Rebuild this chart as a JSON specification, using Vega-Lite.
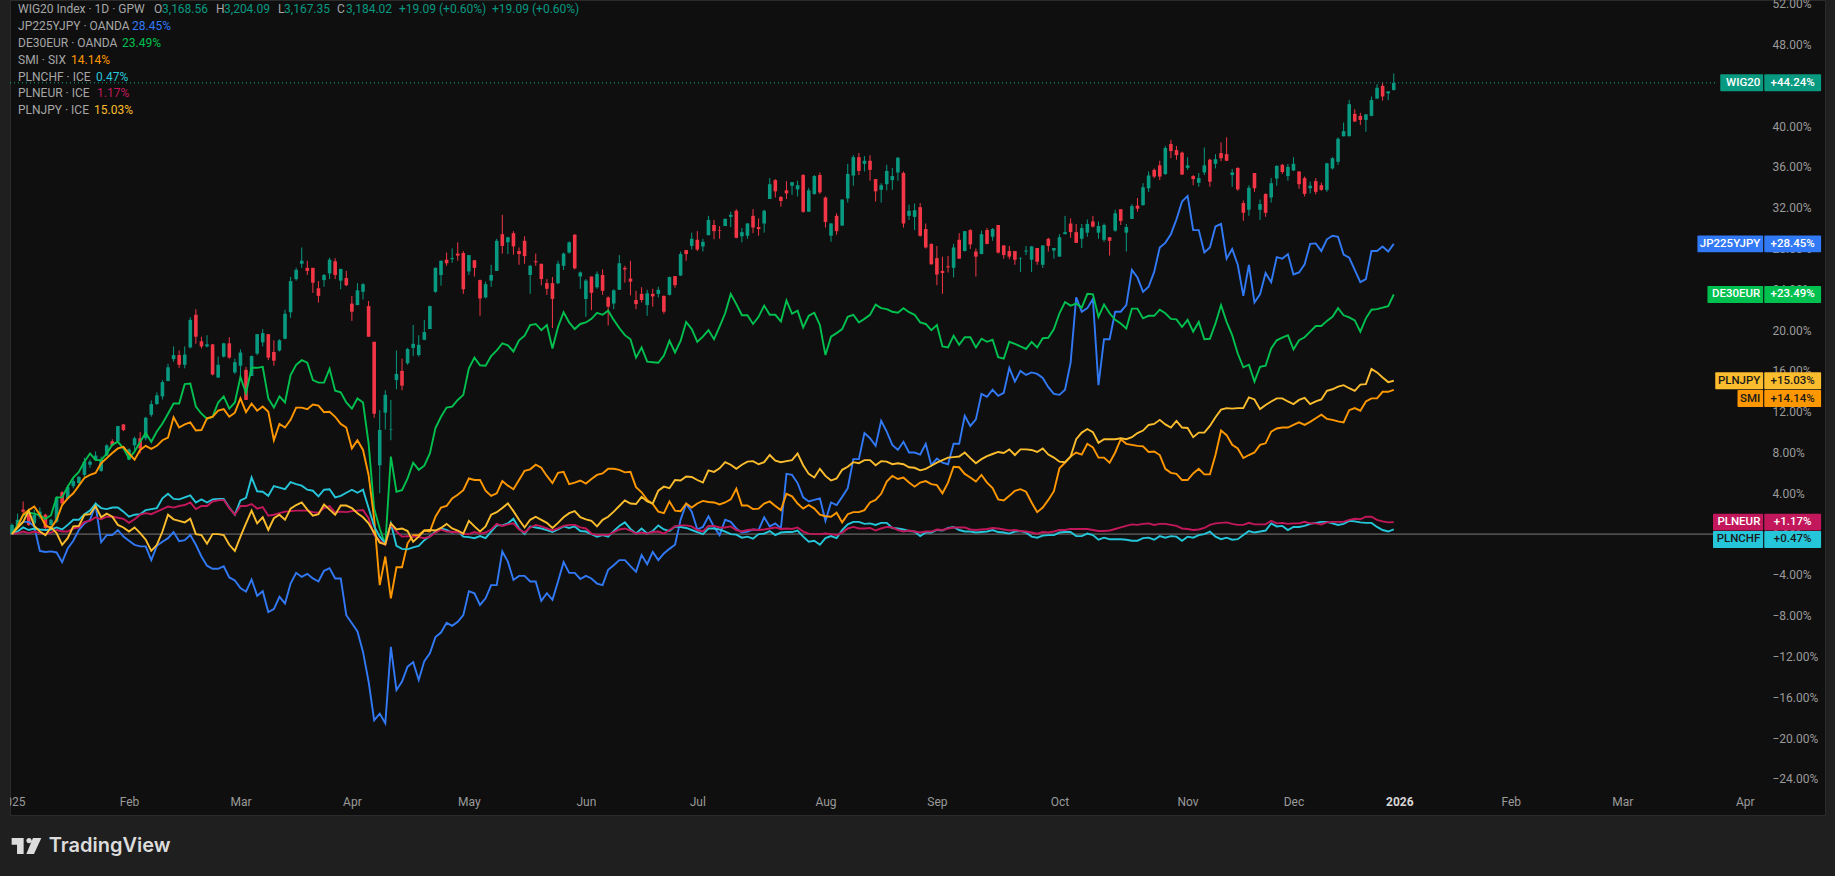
{
"$schema":"https://vega.github.io/schema/vega-lite/v6.json",
"width":1815,"height":815,
"autosize":{"type":"none"},
"padding":{"left":10,"top":0,"right":10,"bottom":61},
"background":"#1f1f1f",
"view":{"fill":"#0f0f0f","stroke":"#2b2b2b"},
"datasets":{
"bars":[
{"i":0,"o":0,"h":1.05,"l":-0.1,"c":0.9,"jp":0,"de":0,"smi":0,"chf":0,"eur":0,"jpy":0},
{"i":1,"o":0.8,"h":2,"l":0.6,"c":1.4,"jp":0.75,"de":0.9,"smi":0.75,"chf":0.25,"eur":0.1,"jpy":0.6},
{"i":2,"o":2.4,"h":3.2,"l":2,"c":2.2,"jp":1.2,"de":1.85,"smi":1.9,"chf":0.65,"eur":0.25,"jpy":1.2},
{"i":3,"o":2,"h":2.2,"l":0.8,"c":0.9,"jp":1.2,"de":2.1,"smi":2.35,"chf":0.4,"eur":0.1,"jpy":2.3},
{"i":4,"o":1.05,"h":2.4,"l":0.2,"c":1.9,"jp":0.75,"de":2,"smi":2.7,"chf":0.55,"eur":0.25,"jpy":0.8},
{"i":5,"o":1.7,"h":2.6,"l":1.5,"c":2.2,"jp":-1.65,"de":1.85,"smi":1.9,"chf":0.45,"eur":0.1,"jpy":0.25},
{"i":6,"o":1.9,"h":2,"l":0.5,"c":0.6,"jp":-1.75,"de":1.5,"smi":0.85,"chf":0.4,"eur":0,"jpy":-0.1},
{"i":7,"o":0.9,"h":1.5,"l":0.7,"c":1.4,"jp":-1.7,"de":1.85,"smi":0.6,"chf":0.45,"eur":0.15,"jpy":0.65},
{"i":8,"o":1.2,"h":3.7,"l":1.1,"c":3.6,"jp":-1.8,"de":3.6,"smi":1.4,"chf":0.65,"eur":0.4,"jpy":0.1},
{"i":9,"o":4.1,"h":4.2,"l":2.95,"c":3,"jp":-2.75,"de":3.6,"smi":2.85,"chf":0.45,"eur":0.25,"jpy":-1.05},
{"i":10,"o":3.5,"h":4.8,"l":3.4,"c":4.6,"jp":-1.4,"de":4.65,"smi":3.5,"chf":0.9,"eur":0.25,"jpy":-0.4},
{"i":11,"o":4.7,"h":5.5,"l":4.5,"c":5.2,"jp":-0.65,"de":5.55,"smi":4,"chf":1.4,"eur":0.55,"jpy":0.75},
{"i":12,"o":5,"h":5.7,"l":4.8,"c":5.6,"jp":0.4,"de":6.1,"smi":4.75,"chf":1.4,"eur":0.65,"jpy":0.8},
{"i":13,"o":5.8,"h":7.5,"l":5.6,"c":7.1,"jp":1.05,"de":7.1,"smi":5.5,"chf":1.95,"eur":1.2,"jpy":1.9},
{"i":14,"o":6.8,"h":7.3,"l":6.5,"c":7.1,"jp":1.4,"de":7.9,"smi":5.8,"chf":2.3,"eur":1.3,"jpy":1.95},
{"i":15,"o":7.3,"h":8.1,"l":7.2,"c":7.7,"jp":2.85,"de":7.25,"smi":6,"chf":3,"eur":1.65,"jpy":2.75},
{"i":16,"o":6.2,"h":7.6,"l":6.1,"c":7.3,"jp":-0.8,"de":7.25,"smi":6.95,"chf":2.55,"eur":1.45,"jpy":1.65},
{"i":17,"o":7.7,"h":8.8,"l":7.65,"c":8.7,"jp":-0.1,"de":7.9,"smi":7.45,"chf":2.45,"eur":1.7,"jpy":2},
{"i":18,"o":9.1,"h":9.3,"l":8.6,"c":8.7,"jp":-0.1,"de":8.75,"smi":7.95,"chf":2.6,"eur":1.7,"jpy":1.7},
{"i":19,"o":9.1,"h":10.6,"l":9.05,"c":10.6,"jp":0.4,"de":9.05,"smi":8.4,"chf":2.6,"eur":1.6,"jpy":0.9},
{"i":20,"o":10.75,"h":10.8,"l":10.1,"c":10.2,"jp":-0.25,"de":8.4,"smi":8.55,"chf":2.2,"eur":1.5,"jpy":0.65},
{"i":21,"o":7.3,"h":8.4,"l":7.25,"c":8.3,"jp":-0.65,"de":7.4,"smi":7.9,"chf":1.7,"eur":1.1,"jpy":0.25},
{"i":22,"o":8.7,"h":9.55,"l":8.25,"c":9.4,"jp":-1.05,"de":8.1,"smi":7.3,"chf":1.9,"eur":1.45,"jpy":0.65},
{"i":23,"o":9.4,"h":10,"l":7.9,"c":8.4,"jp":-1.2,"de":9.05,"smi":8.25,"chf":1.95,"eur":1.9,"jpy":0.1},
{"i":24,"o":9.4,"h":11.5,"l":9.2,"c":11.4,"jp":-1.2,"de":9.9,"smi":8.65,"chf":2.35,"eur":2.05,"jpy":-0.55},
{"i":25,"o":11.7,"h":13.1,"l":11.5,"c":12.75,"jp":-2.55,"de":9.05,"smi":8.35,"chf":2.45,"eur":1.95,"jpy":-1.65},
{"i":26,"o":12.75,"h":13.9,"l":12.65,"c":13.6,"jp":-1.15,"de":10.05,"smi":8.65,"chf":2.55,"eur":2.2,"jpy":-1.05},
{"i":27,"o":13.5,"h":15.1,"l":13.2,"c":14.9,"jp":-0.75,"de":10.85,"smi":9.2,"chf":3.5,"eur":2.45,"jpy":0.25},
{"i":28,"o":15,"h":16.7,"l":15,"c":16.35,"jp":-0.4,"de":11.8,"smi":9.45,"chf":3.95,"eur":2.7,"jpy":1.9},
{"i":29,"o":17.15,"h":18.4,"l":16.9,"c":17.55,"jp":0.2,"de":12.8,"smi":11.45,"chf":3.45,"eur":2.6,"jpy":1.45},
{"i":30,"o":17.55,"h":18,"l":16.3,"c":16.6,"jp":-0.7,"de":12.8,"smi":10.45,"chf":3.4,"eur":2.75,"jpy":1.3},
{"i":31,"o":16.6,"h":18.4,"l":16.25,"c":17.6,"jp":-0.6,"de":14.7,"smi":10.75,"chf":3.6,"eur":2.85,"jpy":1.15},
{"i":32,"o":18.3,"h":21.25,"l":18.2,"c":21,"jp":-0.1,"de":14.75,"smi":10.95,"chf":3.8,"eur":3.1,"jpy":1.5},
{"i":33,"o":21.5,"h":22.05,"l":18.65,"c":19.35,"jp":-1.05,"de":12.5,"smi":10.15,"chf":3.1,"eur":2.45,"jpy":0},
{"i":34,"o":18.9,"h":19.35,"l":18.2,"c":18.4,"jp":-2.2,"de":11.8,"smi":10.2,"chf":3.4,"eur":2.75,"jpy":-0.1},
{"i":35,"o":18.4,"h":19.5,"l":18.3,"c":18.6,"jp":-3.1,"de":11.3,"smi":11.35,"chf":3.1,"eur":2.75,"jpy":-0.95},
{"i":36,"o":18.6,"h":18.65,"l":15.55,"c":15.65,"jp":-3.4,"de":11.5,"smi":11.5,"chf":3.4,"eur":3.2,"jpy":0},
{"i":37,"o":15.35,"h":17.4,"l":15.3,"c":16.6,"jp":-3.4,"de":12.9,"smi":12.1,"chf":3.45,"eur":3.3,"jpy":0},
{"i":38,"o":17.4,"h":18.75,"l":17.3,"c":18.7,"jp":-3.15,"de":13.5,"smi":12.25,"chf":3.45,"eur":3.35,"jpy":-0.1},
{"i":39,"o":18.7,"h":19.3,"l":17.2,"c":17.3,"jp":-4.25,"de":12.3,"smi":11.5,"chf":2.6,"eur":2.55,"jpy":-1.05},
{"i":40,"o":15.85,"h":17.2,"l":15.7,"c":16.85,"jp":-4.55,"de":12.9,"smi":11.9,"chf":1.9,"eur":1.9,"jpy":-1.65},
{"i":41,"o":16.5,"h":18.1,"l":15.4,"c":17.8,"jp":-5.3,"de":15.4,"smi":13.3,"chf":3.3,"eur":2.75,"jpy":-0.25},
{"i":42,"o":16.1,"h":16.4,"l":13.15,"c":13.15,"jp":-5.65,"de":13.8,"smi":11.95,"chf":3.55,"eur":2.75,"jpy":1.05},
{"i":43,"o":15.5,"h":17.5,"l":15.5,"c":17.45,"jp":-4.45,"de":16.3,"smi":12.8,"chf":5.55,"eur":2.95,"jpy":2.3},
{"i":44,"o":17.7,"h":19.6,"l":17.55,"c":19.6,"jp":-6.05,"de":16.3,"smi":12.1,"chf":4.2,"eur":2.5,"jpy":1.05},
{"i":45,"o":18.8,"h":20.1,"l":18.4,"c":19.7,"jp":-5.6,"de":16.4,"smi":12.5,"chf":4.15,"eur":2.65,"jpy":1.65},
{"i":46,"o":19.6,"h":19.6,"l":17.05,"c":17.3,"jp":-7.65,"de":13.3,"smi":12,"chf":3.75,"eur":1.8,"jpy":0.4},
{"i":47,"o":17.85,"h":19,"l":16.5,"c":17,"jp":-7.35,"de":12.4,"smi":9.2,"chf":4.7,"eur":1.9,"jpy":1.55},
{"i":48,"o":18,"h":19.1,"l":17.9,"c":19,"jp":-6.15,"de":13.5,"smi":10.8,"chf":4.55,"eur":2.05,"jpy":1.9},
{"i":49,"o":19.15,"h":22,"l":19.1,"c":21.6,"jp":-6.8,"de":12.9,"smi":10.45,"chf":4.4,"eur":2.2,"jpy":1.4},
{"i":50,"o":21.75,"h":25.2,"l":21.2,"c":24.8,"jp":-4.85,"de":15.6,"smi":11.2,"chf":5.1,"eur":2.25,"jpy":2.5},
{"i":51,"o":25,"h":26.1,"l":24.85,"c":25.9,"jp":-3.8,"de":16.6,"smi":12.4,"chf":4.9,"eur":2.3,"jpy":2.85},
{"i":52,"o":26.5,"h":28.1,"l":26.1,"c":26.8,"jp":-4.2,"de":17.05,"smi":12.4,"chf":4.75,"eur":2.3,"jpy":3.1},
{"i":53,"o":26.1,"h":26.8,"l":25.4,"c":25.8,"jp":-3.9,"de":16.8,"smi":12.25,"chf":4.35,"eur":2.3,"jpy":2.4},
{"i":54,"o":26.1,"h":26.1,"l":23.65,"c":24.65,"jp":-4.35,"de":15.1,"smi":12.7,"chf":4.25,"eur":2.15,"jpy":1.8},
{"i":55,"o":24.1,"h":24.8,"l":22.7,"c":23.35,"jp":-4.65,"de":14.85,"smi":12.6,"chf":3.7,"eur":2.1,"jpy":1.95},
{"i":56,"o":24.9,"h":25.5,"l":24.25,"c":25.4,"jp":-3.6,"de":14.85,"smi":11.95,"chf":4.35,"eur":2.55,"jpy":2.9},
{"i":57,"o":25.55,"h":27.1,"l":25,"c":26.9,"jp":-3.35,"de":16.2,"smi":12,"chf":4.4,"eur":2.75,"jpy":2.4},
{"i":58,"o":26.75,"h":27.05,"l":25,"c":25.4,"jp":-4.35,"de":14.05,"smi":11.5,"chf":3.6,"eur":2.1,"jpy":1.9},
{"i":59,"o":24.85,"h":26,"l":24,"c":26,"jp":-4.35,"de":13.9,"smi":10.8,"chf":3.75,"eur":2.2,"jpy":2.8},
{"i":60,"o":25.1,"h":25.8,"l":24.3,"c":24.4,"jp":-7.95,"de":12.9,"smi":10.45,"chf":4.05,"eur":2.15,"jpy":2.8},
{"i":61,"o":22.6,"h":23.35,"l":20.9,"c":21.8,"jp":-8.75,"de":12.3,"smi":8.4,"chf":4.35,"eur":2.25,"jpy":2.55},
{"i":62,"o":22.45,"h":24.6,"l":22.45,"c":23.9,"jp":-9.55,"de":13.3,"smi":9.2,"chf":4.05,"eur":2.3,"jpy":2.05},
{"i":63,"o":23.75,"h":24.6,"l":23,"c":24.5,"jp":-11.55,"de":12.9,"smi":8.25,"chf":4.35,"eur":2.35,"jpy":1.65},
{"i":64,"o":22.35,"h":22.85,"l":19.35,"c":19.35,"jp":-14.45,"de":8.9,"smi":5.8,"chf":2.55,"eur":1.55,"jpy":1.05},
{"i":65,"o":18.85,"h":18.85,"l":11.4,"c":11.8,"jp":-18.25,"de":2.5,"smi":1.5,"chf":0.75,"eur":-0.1,"jpy":0.1},
{"i":66,"o":6.75,"h":12.15,"l":4,"c":10.2,"jp":-17.6,"de":0.55,"smi":-5,"chf":-0.25,"eur":-0.65,"jpy":-0.85},
{"i":67,"o":11.9,"h":14.1,"l":10.25,"c":13.65,"jp":-18.55,"de":-1.05,"smi":-2.2,"chf":-0.9,"eur":-1.05,"jpy":-1},
{"i":68,"o":10.2,"h":13.15,"l":9.2,"c":10.25,"jp":-11.05,"de":7.6,"smi":-6.3,"chf":1.05,"eur":1,"jpy":1.05},
{"i":69,"o":15.1,"h":18,"l":14.2,"c":15.7,"jp":-15.3,"de":4.15,"smi":-3.25,"chf":-1.15,"eur":0.25,"jpy":0.45},
{"i":70,"o":16,"h":17.2,"l":14.1,"c":14.55,"jp":-14.45,"de":4.3,"smi":-3.25,"chf":-1.45,"eur":-0.25,"jpy":0.55},
{"i":71,"o":16.75,"h":18.25,"l":16.6,"c":18.15,"jp":-13,"de":5.45,"smi":-0.9,"chf":-1.5,"eur":-0.2,"jpy":0.3},
{"i":72,"o":18.25,"h":20.5,"l":17.45,"c":18.65,"jp":-12.55,"de":7,"smi":-0.1,"chf":-1.3,"eur":-0.25,"jpy":-0.75},
{"i":73,"o":17.55,"h":19.5,"l":17.4,"c":18.55,"jp":-14.3,"de":6.3,"smi":-0.1,"chf":-1.15,"eur":-0.3,"jpy":-0.25},
{"i":74,"o":19.05,"h":21,"l":19,"c":19.8,"jp":-12.45,"de":6.7,"smi":0.35,"chf":-0.6,"eur":-0.4,"jpy":0.35},
{"i":75,"o":20.1,"h":22.4,"l":20.1,"c":22.35,"jp":-11.7,"de":7.9,"smi":0.25,"chf":-0.2,"eur":-0.25,"jpy":0.4},
{"i":76,"o":23.75,"h":26.15,"l":23.65,"c":26.1,"jp":-10.1,"de":10.4,"smi":1.7,"chf":0.25,"eur":0.15,"jpy":0.35},
{"i":77,"o":25.4,"h":26.8,"l":24.35,"c":26.8,"jp":-9.65,"de":11.5,"smi":2.6,"chf":0.55,"eur":0.45,"jpy":0.6},
{"i":78,"o":26.9,"h":27.6,"l":26.3,"c":26.55,"jp":-8.7,"de":12.4,"smi":2.75,"chf":0.4,"eur":0.25,"jpy":1},
{"i":79,"o":26.95,"h":28,"l":26.6,"c":27.05,"jp":-9,"de":12.5,"smi":3.5,"chf":0.15,"eur":0.2,"jpy":0.55},
{"i":80,"o":27.5,"h":28.6,"l":26.8,"c":27.3,"jp":-8.6,"de":13.15,"smi":3.85,"chf":0.3,"eur":0.2,"jpy":0.35},
{"i":81,"o":27.55,"h":27.75,"l":23.55,"c":24,"jp":-7.95,"de":13.65,"smi":4.3,"chf":-0.25,"eur":0,"jpy":0.05},
{"i":82,"o":25.75,"h":27.35,"l":25.4,"c":27.35,"jp":-5.6,"de":16.25,"smi":5.45,"chf":-0.3,"eur":0,"jpy":1.3},
{"i":83,"o":26.85,"h":26.85,"l":25.25,"c":26.1,"jp":-5.8,"de":17.3,"smi":5.3,"chf":-0.4,"eur":0.2,"jpy":0.75},
{"i":84,"o":24.9,"h":24.95,"l":21.4,"c":23.1,"jp":-6.95,"de":16.55,"smi":5.3,"chf":-0.2,"eur":0.05,"jpy":0.25},
{"i":85,"o":23.2,"h":24.75,"l":23.1,"c":24.5,"jp":-6.3,"de":16.5,"smi":4.25,"chf":-0.4,"eur":0.15,"jpy":0.75},
{"i":86,"o":24.85,"h":26.4,"l":24.25,"c":25.4,"jp":-5,"de":17.45,"smi":3.75,"chf":0.25,"eur":0.45,"jpy":1.9},
{"i":87,"o":25.8,"h":28.95,"l":25.8,"c":28.75,"jp":-5,"de":18,"smi":4,"chf":0.85,"eur":1,"jpy":2.15},
{"i":88,"o":29.4,"h":31.3,"l":27.5,"c":28.25,"jp":-1.7,"de":18.7,"smi":5.2,"chf":0.85,"eur":0.8,"jpy":2.55},
{"i":89,"o":28.6,"h":29.15,"l":27.45,"c":29.1,"jp":-2.7,"de":18.5,"smi":4.75,"chf":1.05,"eur":0.95,"jpy":3},
{"i":90,"o":29.5,"h":29.7,"l":27.4,"c":28.2,"jp":-4.5,"de":17.9,"smi":4.4,"chf":1.5,"eur":1.05,"jpy":2.25},
{"i":91,"o":27.75,"h":28.1,"l":26.4,"c":27.45,"jp":-4.1,"de":19,"smi":5.3,"chf":0.55,"eur":0.45,"jpy":1.4},
{"i":92,"o":28.75,"h":29.2,"l":26.5,"c":27.25,"jp":-4.1,"de":19.45,"smi":6.2,"chf":0,"eur":0.15,"jpy":0.65},
{"i":93,"o":25.4,"h":26.4,"l":23.55,"c":26.3,"jp":-4.65,"de":20.5,"smi":6.35,"chf":0.75,"eur":0.65,"jpy":1.4},
{"i":94,"o":26.75,"h":27.5,"l":26.3,"c":26.65,"jp":-4.65,"de":20.6,"smi":6.8,"chf":0.65,"eur":0.9,"jpy":1.7},
{"i":95,"o":26.5,"h":26.5,"l":24.4,"c":25,"jp":-6.55,"de":20,"smi":6.5,"chf":0.55,"eur":0.75,"jpy":1.4},
{"i":96,"o":24.6,"h":25,"l":23.45,"c":24.05,"jp":-5.8,"de":20.5,"smi":5.7,"chf":0.4,"eur":0.55,"jpy":1.1},
{"i":97,"o":24.6,"h":25.2,"l":20.2,"c":23.05,"jp":-6.45,"de":18.2,"smi":5,"chf":0.2,"eur":0.35,"jpy":0.6},
{"i":98,"o":24.6,"h":26.8,"l":24.5,"c":26.5,"jp":-4.65,"de":20.3,"smi":6,"chf":0.45,"eur":0.55,"jpy":1.1},
{"i":99,"o":26.3,"h":27.6,"l":25.9,"c":27.5,"jp":-2.75,"de":21.75,"smi":6.1,"chf":0.75,"eur":0.8,"jpy":1.65},
{"i":100,"o":27.6,"h":28.7,"l":27.5,"c":28.6,"jp":-3.8,"de":20.75,"smi":4.9,"chf":0.6,"eur":0.9,"jpy":2.05},
{"i":101,"o":29.35,"h":29.4,"l":25.95,"c":26.05,"jp":-3.8,"de":20.1,"smi":5.05,"chf":0.75,"eur":0.9,"jpy":2.25},
{"i":102,"o":25.25,"h":25.75,"l":24.05,"c":25.65,"jp":-4.4,"de":20.6,"smi":5.25,"chf":0.3,"eur":0.65,"jpy":1.65},
{"i":103,"o":23.05,"h":25,"l":21.3,"c":24.85,"jp":-4.1,"de":20.75,"smi":4.95,"chf":0.25,"eur":0.55,"jpy":1.45},
{"i":104,"o":25.25,"h":25.25,"l":21.95,"c":23.65,"jp":-4.35,"de":21.1,"smi":5.4,"chf":0,"eur":0.05,"jpy":1.3},
{"i":105,"o":24.2,"h":25.75,"l":24.05,"c":25.5,"jp":-4.85,"de":21.7,"smi":5.8,"chf":-0.25,"eur":-0.1,"jpy":0.75},
{"i":106,"o":25.4,"h":25.95,"l":23.45,"c":23.85,"jp":-5,"de":21.5,"smi":5.95,"chf":-0.1,"eur":-0.05,"jpy":1.4},
{"i":107,"o":23.2,"h":23.3,"l":20.45,"c":22.3,"jp":-3.5,"de":21.9,"smi":6.4,"chf":-0.25,"eur":-0.1,"jpy":1.7},
{"i":108,"o":22.6,"h":24,"l":22.05,"c":23.9,"jp":-3.05,"de":21,"smi":6.4,"chf":0.3,"eur":0.2,"jpy":2.2},
{"i":109,"o":23.95,"h":27.35,"l":23.95,"c":26.55,"jp":-2.55,"de":20.2,"smi":6.3,"chf":0.8,"eur":0.45,"jpy":2.75},
{"i":110,"o":26.1,"h":26.3,"l":24.65,"c":25.95,"jp":-2.55,"de":19.5,"smi":6.05,"chf":1.15,"eur":0.55,"jpy":3.3},
{"i":111,"o":25.05,"h":26.8,"l":23.4,"c":24.75,"jp":-3.15,"de":19.1,"smi":6.1,"chf":0.5,"eur":0.35,"jpy":3},
{"i":112,"o":22.95,"h":23.85,"l":22.05,"c":22.55,"jp":-3.7,"de":17.3,"smi":4.6,"chf":0.05,"eur":0.05,"jpy":2.95},
{"i":113,"o":23.55,"h":24.2,"l":22.7,"c":22.95,"jp":-2.05,"de":18.3,"smi":4.1,"chf":0.55,"eur":0.15,"jpy":3.65},
{"i":114,"o":22.45,"h":23.95,"l":21.4,"c":23.6,"jp":-2.95,"de":16.9,"smi":3.35,"chf":0.05,"eur":0.05,"jpy":3.2},
{"i":115,"o":23.55,"h":24.05,"l":22.3,"c":23.3,"jp":-1.75,"de":16.85,"smi":2.95,"chf":0.3,"eur":0.2,"jpy":3},
{"i":116,"o":23.55,"h":24.25,"l":23.2,"c":23.95,"jp":-2.55,"de":16.8,"smi":2.2,"chf":0.85,"eur":0.25,"jpy":4.25},
{"i":117,"o":23.35,"h":23.4,"l":21.6,"c":21.8,"jp":-1.9,"de":17.5,"smi":2.05,"chf":0.45,"eur":0.05,"jpy":4.65},
{"i":118,"o":23.45,"h":25.25,"l":23.4,"c":25.2,"jp":-1.45,"de":18.95,"smi":3.2,"chf":0.3,"eur":0.4,"jpy":4.5},
{"i":119,"o":25.3,"h":25.3,"l":24.15,"c":24.4,"jp":-1.05,"de":17.8,"smi":2.3,"chf":0.75,"eur":0.75,"jpy":5.3},
{"i":120,"o":25.35,"h":27.7,"l":25.3,"c":27.45,"jp":1.4,"de":18.95,"smi":2.25,"chf":0.7,"eur":0.85,"jpy":5.25},
{"i":121,"o":27.85,"h":27.85,"l":26.8,"c":27.45,"jp":2.95,"de":20.8,"smi":3,"chf":0.6,"eur":0.85,"jpy":5.65},
{"i":122,"o":28.25,"h":29.55,"l":27.9,"c":28.95,"jp":2.2,"de":20.1,"smi":2.6,"chf":0.4,"eur":0.75,"jpy":5.6},
{"i":123,"o":28.85,"h":29.7,"l":27.75,"c":27.9,"jp":0.45,"de":18.85,"smi":3,"chf":0.2,"eur":0.4,"jpy":5.3},
{"i":124,"o":28.2,"h":28.95,"l":27.7,"c":28.65,"jp":0.7,"de":19.35,"smi":3.25,"chf":0,"eur":0.25,"jpy":5.05},
{"i":125,"o":29.3,"h":31.2,"l":29.3,"c":30.8,"jp":1.75,"de":20,"smi":3.15,"chf":0.55,"eur":0.8,"jpy":6.25},
{"i":126,"o":30.3,"h":30.8,"l":28.9,"c":29.7,"jp":0.7,"de":19.1,"smi":3.1,"chf":0.55,"eur":0.8,"jpy":6.1},
{"i":127,"o":29.8,"h":30.2,"l":28.95,"c":29.75,"jp":-0.1,"de":20.35,"smi":2.9,"chf":0.45,"eur":0.65,"jpy":6.45},
{"i":128,"o":30.2,"h":30.95,"l":30.2,"c":30.9,"jp":1.4,"de":21.65,"smi":3.1,"chf":0.25,"eur":0.65,"jpy":7.05},
{"i":129,"o":31.1,"h":31.6,"l":30.1,"c":31.3,"jp":1.2,"de":23.55,"smi":3.4,"chf":0,"eur":0.75,"jpy":6.8},
{"i":130,"o":31.7,"h":31.85,"l":29,"c":29.05,"jp":0.55,"de":22.55,"smi":4.45,"chf":-0.05,"eur":0.4,"jpy":6.4},
{"i":131,"o":29.2,"h":30,"l":28.6,"c":29.6,"jp":0.15,"de":21.45,"smi":2.8,"chf":-0.35,"eur":0.25,"jpy":6.8},
{"i":132,"o":29.25,"h":30.5,"l":28.95,"c":30.45,"jp":0.25,"de":21.45,"smi":2.8,"chf":-0.25,"eur":0.4,"jpy":7.1},
{"i":133,"o":31.2,"h":31.85,"l":29.5,"c":30.05,"jp":0.45,"de":20.6,"smi":2.45,"chf":-0.45,"eur":0.45,"jpy":7.15},
{"i":134,"o":30.1,"h":30.95,"l":29.25,"c":29.9,"jp":0.4,"de":21.3,"smi":2.5,"chf":0,"eur":0.4,"jpy":6.85},
{"i":135,"o":30.45,"h":31.8,"l":29.55,"c":31.7,"jp":1.65,"de":22.4,"smi":3,"chf":0.05,"eur":0.45,"jpy":7.05},
{"i":136,"o":32.85,"h":34.9,"l":32.85,"c":34.3,"jp":0.75,"de":21.5,"smi":3.2,"chf":0.3,"eur":0.55,"jpy":7.75},
{"i":137,"o":34.7,"h":34.8,"l":33,"c":33.6,"jp":1.05,"de":21.5,"smi":2.75,"chf":-0.1,"eur":0.65,"jpy":7.2},
{"i":138,"o":33.05,"h":33.15,"l":32.1,"c":32.65,"jp":0.55,"de":20.85,"smi":2.35,"chf":0.15,"eur":0.5,"jpy":7.05},
{"i":139,"o":33.7,"h":34.6,"l":32.85,"c":33.4,"jp":5.9,"de":22.9,"smi":3.95,"chf":0.2,"eur":0.55,"jpy":7.15},
{"i":140,"o":34.15,"h":34.5,"l":33.25,"c":34.5,"jp":5.8,"de":21.6,"smi":3.7,"chf":0.2,"eur":0.5,"jpy":7.25},
{"i":141,"o":33.8,"h":34.65,"l":33.1,"c":34.2,"jp":5,"de":21.9,"smi":3,"chf":0.35,"eur":0.65,"jpy":7.9},
{"i":142,"o":35.2,"h":35.3,"l":31.5,"c":31.6,"jp":3.6,"de":20.25,"smi":2.5,"chf":-0.25,"eur":0.25,"jpy":6.75},
{"i":143,"o":31.6,"h":33.95,"l":31.6,"c":33.7,"jp":3.2,"de":21.4,"smi":2.85,"chf":-0.75,"eur":0.05,"jpy":5.9},
{"i":144,"o":33.35,"h":35.2,"l":33.25,"c":35.1,"jp":3.35,"de":21.7,"smi":2.5,"chf":-0.65,"eur":0,"jpy":5.55},
{"i":145,"o":35.2,"h":35.45,"l":33.35,"c":33.5,"jp":3.5,"de":20.5,"smi":1.9,"chf":-1.05,"eur":0,"jpy":6.4},
{"i":146,"o":33,"h":33.1,"l":30.05,"c":30.6,"jp":1.3,"de":17.55,"smi":1.75,"chf":-0.4,"eur":0.05,"jpy":5.7},
{"i":147,"o":29.25,"h":30.5,"l":28.65,"c":30.45,"jp":3.1,"de":19.35,"smi":1.7,"chf":-0.2,"eur":0,"jpy":5.25},
{"i":148,"o":31.2,"h":31.45,"l":29.35,"c":29.7,"jp":2.85,"de":19.7,"smi":2.1,"chf":-0.4,"eur":-0.1,"jpy":5.45},
{"i":149,"o":30.25,"h":32.8,"l":30.2,"c":32.8,"jp":3.65,"de":20.1,"smi":1.15,"chf":0.4,"eur":0.15,"jpy":6.3},
{"i":150,"o":32.9,"h":36.3,"l":32.5,"c":35.3,"jp":4.5,"de":21.3,"smi":1.95,"chf":0.95,"eur":0.55,"jpy":6.6},
{"i":151,"o":35.15,"h":37.15,"l":34.15,"c":36.95,"jp":7.35,"de":21.5,"smi":2.15,"chf":1.2,"eur":0.7,"jpy":7.05},
{"i":152,"o":36.95,"h":37.35,"l":35.2,"c":35.6,"jp":7.35,"de":20.75,"smi":2.15,"chf":1.2,"eur":0.55,"jpy":6.95},
{"i":153,"o":36.3,"h":37.05,"l":35.55,"c":36.6,"jp":9.9,"de":21.1,"smi":2.35,"chf":1,"eur":0.55,"jpy":7.25},
{"i":154,"o":36.6,"h":37.15,"l":34.65,"c":35.7,"jp":9.4,"de":21.5,"smi":3.1,"chf":1.05,"eur":0.6,"jpy":7.25},
{"i":155,"o":34.8,"h":34.8,"l":32.6,"c":33.6,"jp":8.65,"de":22.5,"smi":3.35,"chf":0.9,"eur":0.35,"jpy":6.75},
{"i":156,"o":33.75,"h":34.4,"l":32.5,"c":34.2,"jp":11.1,"de":22.15,"smi":3.95,"chf":1.1,"eur":0.55,"jpy":7.15},
{"i":157,"o":34.3,"h":36.2,"l":33.7,"c":35.6,"jp":10.05,"de":22.05,"smi":5.15,"chf":1.1,"eur":0.7,"jpy":7.1},
{"i":158,"o":34.7,"h":35.9,"l":33.75,"c":35.1,"jp":8.75,"de":21.8,"smi":5.7,"chf":0.6,"eur":0.65,"jpy":6.85},
{"i":159,"o":35.45,"h":36.95,"l":34.65,"c":36.9,"jp":8.25,"de":21.7,"smi":5.4,"chf":0.55,"eur":0.4,"jpy":6.95},
{"i":160,"o":35.4,"h":35.55,"l":30.05,"c":30.45,"jp":9.05,"de":22.15,"smi":5.55,"chf":0.45,"eur":0.25,"jpy":6.85},
{"i":161,"o":31.2,"h":32.3,"l":30.8,"c":31.7,"jp":8,"de":21.75,"smi":5.05,"chf":0.3,"eur":0.35,"jpy":6.55},
{"i":162,"o":31.1,"h":32.4,"l":29.8,"c":31.75,"jp":8,"de":21.5,"smi":4.65,"chf":0.25,"eur":0.25,"jpy":6.5},
{"i":163,"o":32.05,"h":32.45,"l":29.15,"c":29.25,"jp":7.8,"de":20.75,"smi":5.05,"chf":-0.2,"eur":0.15,"jpy":6.25},
{"i":164,"o":29.9,"h":30.45,"l":28,"c":28.1,"jp":8.85,"de":20.6,"smi":5.2,"chf":0.15,"eur":0.25,"jpy":6.4},
{"i":165,"o":28.45,"h":28.5,"l":26.4,"c":26.45,"jp":6.75,"de":20,"smi":4.9,"chf":0.15,"eur":0.25,"jpy":6.7},
{"i":166,"o":27.05,"h":28.25,"l":24.4,"c":25.45,"jp":7.4,"de":20.5,"smi":4.8,"chf":0.4,"eur":0.45,"jpy":7},
{"i":167,"o":25.8,"h":27.2,"l":23.55,"c":25.6,"jp":7,"de":18.4,"smi":4,"chf":0.35,"eur":0.4,"jpy":7.25},
{"i":168,"o":26.25,"h":27.25,"l":25.65,"c":26.15,"jp":6.85,"de":18.3,"smi":5.05,"chf":0.6,"eur":0.55,"jpy":7.5},
{"i":169,"o":26.1,"h":28.45,"l":25.15,"c":28.1,"jp":8.85,"de":19.45,"smi":6.6,"chf":0.7,"eur":0.65,"jpy":7.55},
{"i":170,"o":28.85,"h":29.5,"l":27,"c":27,"jp":8.85,"de":18.55,"smi":6.55,"chf":0.4,"eur":0.65,"jpy":7.6},
{"i":171,"o":27.75,"h":29.7,"l":27.7,"c":29.7,"jp":11.6,"de":19.3,"smi":5.9,"chf":0.25,"eur":0.65,"jpy":8},
{"i":172,"o":29.8,"h":29.9,"l":27.95,"c":28.4,"jp":10.6,"de":19.3,"smi":5.55,"chf":0.25,"eur":0.45,"jpy":7.45},
{"i":173,"o":27.7,"h":28,"l":25.25,"c":27.2,"jp":11.25,"de":18.3,"smi":5.15,"chf":0.15,"eur":0.4,"jpy":6.95},
{"i":174,"o":27.45,"h":29.75,"l":27.45,"c":29.4,"jp":13.75,"de":19.15,"smi":5.8,"chf":0.2,"eur":0.45,"jpy":7.35},
{"i":175,"o":29.8,"h":30,"l":28.4,"c":28.45,"jp":13.45,"de":18.85,"smi":5.05,"chf":0.25,"eur":0.5,"jpy":7.65},
{"i":176,"o":29.15,"h":30,"l":28.75,"c":29.9,"jp":14.15,"de":19.05,"smi":4.5,"chf":0.4,"eur":0.6,"jpy":7.85},
{"i":177,"o":30.3,"h":30.3,"l":27.5,"c":27.6,"jp":13.55,"de":17.35,"smi":3.4,"chf":0.2,"eur":0.55,"jpy":8.05},
{"i":178,"o":28.3,"h":28.3,"l":27,"c":27.35,"jp":13.85,"de":17.2,"smi":3.3,"chf":0.15,"eur":0.45,"jpy":7.95},
{"i":179,"o":27.75,"h":28.25,"l":26.95,"c":27.2,"jp":16.3,"de":18.85,"smi":3.75,"chf":0.05,"eur":0.35,"jpy":8.3},
{"i":180,"o":27.75,"h":27.75,"l":26.4,"c":26.9,"jp":14.95,"de":18.65,"smi":4.25,"chf":0.25,"eur":0.4,"jpy":7.75},
{"i":181,"o":27,"h":27.15,"l":25.7,"c":27.05,"jp":16,"de":18.4,"smi":4.4,"chf":0.3,"eur":0.3,"jpy":8.3},
{"i":182,"o":27.7,"h":28.25,"l":27.35,"c":27.8,"jp":15.6,"de":18.15,"smi":4.15,"chf":0.15,"eur":0.25,"jpy":8.3},
{"i":183,"o":26.9,"h":28.25,"l":25.7,"c":28.2,"jp":15.85,"de":18.85,"smi":3.1,"chf":-0.25,"eur":0.15,"jpy":8.25},
{"i":184,"o":28.05,"h":28.05,"l":26.4,"c":26.7,"jp":15.7,"de":18.3,"smi":2.15,"chf":-0.35,"eur":0.05,"jpy":8.05},
{"i":185,"o":26.4,"h":28.3,"l":26.1,"c":28.3,"jp":15.3,"de":19.2,"smi":2.6,"chf":-0.15,"eur":0.2,"jpy":8.4},
{"i":186,"o":28.95,"h":29.05,"l":27.7,"c":28.25,"jp":14.4,"de":19.25,"smi":3.35,"chf":-0.1,"eur":0.15,"jpy":7.8},
{"i":187,"o":27.8,"h":28.05,"l":27,"c":28.05,"jp":13.75,"de":20.1,"smi":4.2,"chf":-0.1,"eur":0.25,"jpy":7.5},
{"i":188,"o":27.2,"h":29.4,"l":27.2,"c":29.1,"jp":13.65,"de":21.65,"smi":6.45,"chf":0.15,"eur":0.4,"jpy":7.1},
{"i":189,"o":29.4,"h":31.2,"l":29.4,"c":29.6,"jp":14.15,"de":22.75,"smi":7,"chf":0.2,"eur":0.4,"jpy":7.05},
{"i":190,"o":30.45,"h":30.95,"l":29.05,"c":29.6,"jp":16.8,"de":22.4,"smi":7.6,"chf":0.2,"eur":0.5,"jpy":7.6},
{"i":191,"o":29.6,"h":30.4,"l":28.55,"c":28.55,"jp":23.2,"de":22.6,"smi":8,"chf":-0.2,"eur":0.5,"jpy":9.3},
{"i":192,"o":28.95,"h":30.4,"l":28.05,"c":30,"jp":21.8,"de":22.2,"smi":7.8,"chf":-0.2,"eur":0.5,"jpy":9.95},
{"i":193,"o":29.55,"h":30.85,"l":29.15,"c":30.4,"jp":22.15,"de":23.55,"smi":8.85,"chf":0.05,"eur":0.5,"jpy":10.3},
{"i":194,"o":30.65,"h":31.2,"l":30.05,"c":30.15,"jp":23.05,"de":23.5,"smi":8.5,"chf":-0.1,"eur":0.4,"jpy":10},
{"i":195,"o":29.55,"h":30.65,"l":28.95,"c":30.2,"jp":14.6,"de":21.3,"smi":7.5,"chf":-0.55,"eur":0.3,"jpy":8.95},
{"i":196,"o":28.85,"h":30.45,"l":28.65,"c":30.3,"jp":19.1,"de":22.5,"smi":7.5,"chf":-0.35,"eur":0.3,"jpy":9.3},
{"i":197,"o":29.1,"h":29.1,"l":27.3,"c":28.75,"jp":19.1,"de":21.65,"smi":7,"chf":-0.5,"eur":0.35,"jpy":9.3},
{"i":198,"o":29.75,"h":31.8,"l":29.65,"c":31.45,"jp":21.8,"de":21,"smi":8,"chf":-0.5,"eur":0.5,"jpy":9.3},
{"i":199,"o":31.85,"h":31.85,"l":30.3,"c":30.7,"jp":21.8,"de":20.65,"smi":9.3,"chf":-0.5,"eur":0.65,"jpy":9.4},
{"i":200,"o":29.55,"h":30.4,"l":27.7,"c":30.1,"jp":22.45,"de":20.15,"smi":8.85,"chf":-0.55,"eur":0.8,"jpy":9.3},
{"i":201,"o":30.9,"h":32.35,"l":30.9,"c":32.15,"jp":25.9,"de":22.1,"smi":8.75,"chf":-0.65,"eur":0.95,"jpy":9.5},
{"i":202,"o":32.2,"h":32.95,"l":31.6,"c":31.9,"jp":25.15,"de":22.1,"smi":8.65,"chf":-0.65,"eur":0.9,"jpy":9.9},
{"i":203,"o":32.25,"h":34.4,"l":32.2,"c":34,"jp":23.75,"de":21.15,"smi":8.6,"chf":-0.4,"eur":1,"jpy":10.15},
{"i":204,"o":33.9,"h":35.55,"l":33.55,"c":35.15,"jp":24.25,"de":21.4,"smi":8.05,"chf":-0.35,"eur":1.05,"jpy":10.7},
{"i":205,"o":35.7,"h":35.85,"l":34.9,"c":35.05,"jp":25.7,"de":21.4,"smi":8.1,"chf":-0.55,"eur":0.9,"jpy":10.8},
{"i":206,"o":36.15,"h":36.6,"l":34.7,"c":35.05,"jp":28.1,"de":22,"smi":7.75,"chf":-0.2,"eur":1,"jpy":11.2},
{"i":207,"o":35.3,"h":38.05,"l":35.2,"c":37.85,"jp":28.55,"de":21.65,"smi":6.4,"chf":-0.35,"eur":1,"jpy":10.75},
{"i":208,"o":38.25,"h":38.65,"l":36.85,"c":37.55,"jp":29.4,"de":21.1,"smi":6,"chf":-0.2,"eur":0.9,"jpy":10.45},
{"i":209,"o":37.65,"h":38.05,"l":36.7,"c":37.15,"jp":30.85,"de":21.05,"smi":5.9,"chf":-0.25,"eur":0.8,"jpy":11.1},
{"i":210,"o":37.4,"h":37.5,"l":35.2,"c":35.25,"jp":32.6,"de":20.3,"smi":5.3,"chf":-0.65,"eur":0.55,"jpy":10.45},
{"i":211,"o":35.9,"h":36.95,"l":35.7,"c":36.15,"jp":33.15,"de":21,"smi":5.3,"chf":-0.25,"eur":0.5,"jpy":10.4},
{"i":212,"o":35.1,"h":35.2,"l":34.2,"c":34.8,"jp":29.8,"de":19.85,"smi":5.95,"chf":-0.35,"eur":0.4,"jpy":9.5},
{"i":213,"o":34.45,"h":35.4,"l":34.05,"c":34.9,"jp":29.8,"de":20.8,"smi":6.4,"chf":-0.1,"eur":0.45,"jpy":9.95},
{"i":214,"o":35.45,"h":37.9,"l":35.2,"c":36.15,"jp":27.6,"de":19.1,"smi":5.85,"chf":0,"eur":0.6,"jpy":9.95},
{"i":215,"o":36.7,"h":36.8,"l":34.05,"c":34.55,"jp":28.1,"de":19.15,"smi":5.85,"chf":0.25,"eur":0.9,"jpy":10.6},
{"i":216,"o":36.3,"h":37.25,"l":35.85,"c":36.75,"jp":30.15,"de":20.65,"smi":7.75,"chf":-0.25,"eur":1.05,"jpy":11.45},
{"i":217,"o":37.35,"h":38.4,"l":36.55,"c":36.85,"jp":30.4,"de":22.45,"smi":10.15,"chf":-0.5,"eur":1.1,"jpy":12.2},
{"i":218,"o":37.25,"h":38.9,"l":36.6,"c":36.6,"jp":27,"de":20.8,"smi":9.7,"chf":-0.35,"eur":1.15,"jpy":12.35},
{"i":219,"o":35.2,"h":35.8,"l":34.05,"c":35.45,"jp":27.95,"de":19.5,"smi":8.75,"chf":-0.55,"eur":1,"jpy":12.3},
{"i":220,"o":35.9,"h":35.95,"l":33.65,"c":33.8,"jp":26.4,"de":17.7,"smi":8.4,"chf":-0.5,"eur":0.9,"jpy":12.35},
{"i":221,"o":32.45,"h":32.7,"l":30.7,"c":31.5,"jp":23.35,"de":16.35,"smi":7.45,"chf":-0.1,"eur":0.9,"jpy":12.35},
{"i":222,"o":31.8,"h":34.2,"l":31.2,"c":33.95,"jp":26.4,"de":16.6,"smi":7.75,"chf":0.3,"eur":1.1,"jpy":13.4},
{"i":223,"o":35.4,"h":35.4,"l":33.55,"c":33.9,"jp":22.7,"de":14.95,"smi":8,"chf":0.15,"eur":0.95,"jpy":13.2},
{"i":224,"o":31.8,"h":32.8,"l":30.8,"c":32.35,"jp":23.5,"de":16.4,"smi":8.75,"chf":0.25,"eur":0.95,"jpy":12.25},
{"i":225,"o":33.35,"h":33.4,"l":31.1,"c":31.5,"jp":25.6,"de":16.5,"smi":8.9,"chf":0.35,"eur":0.95,"jpy":12.65},
{"i":226,"o":33,"h":34.9,"l":32.5,"c":34.4,"jp":24.7,"de":18.2,"smi":10.05,"chf":1.05,"eur":1.3,"jpy":13},
{"i":227,"o":34.85,"h":36.15,"l":34.15,"c":36.1,"jp":27.15,"de":19,"smi":10.35,"chf":0.75,"eur":1.05,"jpy":13.3},
{"i":228,"o":36.2,"h":36.3,"l":35.3,"c":35.5,"jp":27,"de":19.25,"smi":10.45,"chf":0.8,"eur":1.1,"jpy":13.3},
{"i":229,"o":35.1,"h":36.3,"l":34.65,"c":36,"jp":27.45,"de":19.5,"smi":10.45,"chf":0.4,"eur":1,"jpy":13},
{"i":230,"o":35.65,"h":36.95,"l":35.6,"c":36.3,"jp":25.45,"de":18.1,"smi":10.7,"chf":0.7,"eur":1.05,"jpy":12.75},
{"i":231,"o":35.55,"h":35.55,"l":33.85,"c":34.3,"jp":25.65,"de":19,"smi":10.95,"chf":0.7,"eur":1.05,"jpy":13.15},
{"i":232,"o":34.9,"h":35.05,"l":33.1,"c":33.35,"jp":26.45,"de":19.3,"smi":10.7,"chf":0.8,"eur":1.2,"jpy":13.35},
{"i":233,"o":33.9,"h":34.55,"l":33.4,"c":34.15,"jp":28.45,"de":19.85,"smi":11,"chf":1,"eur":1.05,"jpy":12.75},
{"i":234,"o":34.6,"h":34.9,"l":33.3,"c":33.55,"jp":28.5,"de":20.4,"smi":11.35,"chf":1.1,"eur":1.05,"jpy":13},
{"i":235,"o":34.2,"h":34.45,"l":33.65,"c":33.75,"jp":27.75,"de":20.4,"smi":11.7,"chf":1.2,"eur":0.95,"jpy":13.2},
{"i":236,"o":33.75,"h":36.4,"l":33.55,"c":36.35,"jp":28.9,"de":20.9,"smi":11.3,"chf":1.2,"eur":1.15,"jpy":14.05},
{"i":237,"o":35.85,"h":36.95,"l":35.75,"c":36.85,"jp":29.25,"de":21.3,"smi":11.2,"chf":1.05,"eur":1.2,"jpy":14.2},
{"i":238,"o":36.5,"h":38.9,"l":36.2,"c":38.75,"jp":29.15,"de":22.15,"smi":11.05,"chf":0.9,"eur":1.2,"jpy":14.45},
{"i":239,"o":39,"h":40.35,"l":39,"c":39.5,"jp":27.4,"de":21.45,"smi":10.95,"chf":1,"eur":1.2,"jpy":14.6},
{"i":240,"o":39,"h":42.55,"l":39,"c":42.15,"jp":27.1,"de":21.25,"smi":12.15,"chf":1.3,"eur":1.4,"jpy":14.3},
{"i":241,"o":41.2,"h":41.65,"l":40.4,"c":40.45,"jp":25.9,"de":20.95,"smi":12.35,"chf":1.25,"eur":1.5,"jpy":14.05},
{"i":242,"o":41,"h":41.3,"l":40.1,"c":40.6,"jp":24.7,"de":19.85,"smi":12.1,"chf":1.15,"eur":1.45,"jpy":14.65},
{"i":243,"o":40.6,"h":41.15,"l":39.45,"c":41.15,"jp":25,"de":21.15,"smi":13,"chf":1.1,"eur":1.7,"jpy":14.7},
{"i":244,"o":41,"h":42.9,"l":40.95,"c":42.55,"jp":27.75,"de":22,"smi":13.3,"chf":1.1,"eur":1.7,"jpy":16.2},
{"i":245,"o":42.7,"h":44.1,"l":42.65,"c":43.75,"jp":27.75,"de":22.05,"smi":13.3,"chf":0.7,"eur":1.4,"jpy":15.85},
{"i":246,"o":43.95,"h":44.25,"l":42.5,"c":42.9,"jp":28.2,"de":22.2,"smi":13.95,"chf":0.4,"eur":1.25,"jpy":15.35},
{"i":247,"o":43.2,"h":43.4,"l":42.55,"c":43.4,"jp":27.7,"de":22.35,"smi":13.95,"chf":0.25,"eur":1.15,"jpy":14.9},
{"i":248,"o":43.54,"h":45.15,"l":43.48,"c":44.24,"jp":28.45,"de":23.49,"smi":14.14,"chf":0.47,"eur":1.17,"jpy":15.03}
],
"tags":[
{"key":"wig","name":"WIG20","value":44.24,"text":"+44.24%"},
{"key":"jp","name":"JP225YJPY","value":28.45,"text":"+28.45%"},
{"key":"de","name":"DE30EUR","value":23.49,"text":"+23.49%"},
{"key":"jpy","name":"PLNJPY","value":15.03,"text":"+15.03%"},
{"key":"smi","name":"SMI","value":14.14,"text":"+14.14%"},
{"key":"eur","name":"PLNEUR","value":1.17,"text":"+1.17%"},
{"key":"chf","name":"PLNCHF","value":0.47,"text":"+0.47%"}
],
"header":[
{"row":0,"part":"title","key":"txt","text":"WIG20 Index · 1D · GPW"},
{"row":0,"part":"O","key":"txt","text":"O"},
{"row":0,"part":"Ov","key":"wig","text":"3,168.56"},
{"row":0,"part":"H","key":"txt","text":"H"},
{"row":0,"part":"Hv","key":"wig","text":"3,204.09"},
{"row":0,"part":"L","key":"txt","text":"L"},
{"row":0,"part":"Lv","key":"wig","text":"3,167.35"},
{"row":0,"part":"C","key":"txt","text":"C"},
{"row":0,"part":"Cv","key":"wig","text":"3,184.02"},
{"row":0,"part":"chg1","key":"wig","text":"+19.09 (+0.60%)"},
{"row":0,"part":"chg2","key":"wig","text":"+19.09 (+0.60%)"},
{"row":1,"part":"title","key":"txt","text":"JP225YJPY · OANDA"},
{"row":1,"part":"jp","key":"jp","text":"28.45%"},
{"row":2,"part":"title","key":"txt","text":"DE30EUR · OANDA"},
{"row":2,"part":"de","key":"de","text":"23.49%"},
{"row":3,"part":"title","key":"txt","text":"SMI · SIX"},
{"row":3,"part":"smi","key":"smi","text":"14.14%"},
{"row":4,"part":"title","key":"txt","text":"PLNCHF · ICE"},
{"row":4,"part":"chf","key":"chf","text":"0.47%"},
{"row":5,"part":"title","key":"txt","text":"PLNEUR · ICE"},
{"row":5,"part":"eur","key":"eur","text":"1.17%"},
{"row":6,"part":"title","key":"txt","text":"PLNJPY · ICE"},
{"row":6,"part":"jpy","key":"jpy","text":"15.03%"}
]
},
"encoding":{
"x":{"type":"quantitative","scale":{"domain":[-0.36,325.4],"nice":false,"zero":false,"padding":0}},
"y":{"type":"quantitative","scale":{"domain":[-27.54,52.36],"nice":false,"zero":false}}
},
"layer":[
{
"data":{"name":"bars"},
"mark":{"type":"rule","strokeWidth":1},
"encoding":{
"x":{"field":"i","type":"quantitative","title":null,"scale":{"domain":[-0.36,325.4],"nice":false,"zero":false,"padding":0},"axis":{
"orient":"bottom","title":null,"grid":false,"domain":false,"ticks":false,"tickSize":0,"labelPadding":-19,"labelOverlap":false,"labelFlush":false,
"labelFont":"Roboto","labelFontSize":12,
"labelColor":{"condition":{"test":"datum.value==249","value":"#d6d6d6"},"value":"#9a9a9a"},
"labelFontWeight":{"condition":{"test":"datum.value==249","value":"bold"},"value":"normal"},
"values":[21,41,61,82,103,123,146,166,188,211,230,249,269,289,311],
"labelExpr":"{'21':'Feb','41':'Mar','61':'Apr','82':'May','103':'Jun','123':'Jul','146':'Aug','166':'Sep','188':'Oct','211':'Nov','230':'Dec','249':'2026','269':'Feb','289':'Mar','311':'Apr'}[datum.value]"
}},
"y":{"field":"l","type":"quantitative","title":null,"scale":{"domain":[-27.54,52.36],"nice":false,"zero":false},"axis":{
"orient":"right","title":null,"grid":false,"domain":false,"ticks":false,"tickSize":0,"labelPadding":-53,"labelAlign":"left",
"labelFont":"Roboto","labelFontSize":12,"labelColor":"#9a9a9a","labelOverlap":false,"labelFlush":false,
"values":[-24,-20,-16,-12,-8,-4,0,4,8,12,16,20,24,28,32,36,40,44,48,52],
"labelExpr":"replace(format(datum.value,'.2f'),'-','−')+'%'"
}},
"y2":{"field":"h"},
"color":{"condition":{"test":"datum.c>=datum.o","value":"#089981"},"value":"#f23645"}
}
},
{
"data":{"name":"bars"},
"mark":{"type":"bar","orient":"vertical","size":3.6},
"encoding":{
"x":{"field":"i","type":"quantitative"},
"y":{"field":"o","type":"quantitative"},
"y2":{"field":"c"},
"color":{"condition":{"test":"datum.c>=datum.o","value":"#089981"},"value":"#f23645"}
}
},
{
"data":{"values":[{"level":0}]},
"mark":{"type":"rule","color":"#7a7a7a","strokeWidth":1},
"encoding":{"y":{"field":"level","type":"quantitative"},"x":{"datum":-0.36},"x2":{"datum":306}}
},
{
"data":{"values":[{"level":44.24}]},
"mark":{"type":"rule","color":"#0fae94","strokeWidth":1,"strokeDash":[1,3]},
"encoding":{"y":{"field":"level","type":"quantitative"},"x":{"datum":-0.36},"x2":{"datum":306}}
},
{
"data":{"name":"bars"},
"transform":[{"fold":["jp","de","smi","chf","eur","jpy"],"as":["key","pct"]}],
"mark":{"type":"line","strokeWidth":1.9,"interpolate":"linear"},
"encoding":{
"x":{"field":"i","type":"quantitative"},
"y":{"field":"pct","type":"quantitative"},
"color":{"field":"key","type":"nominal","legend":null,"scale":{
"domain":["jp","de","smi","chf","eur","jpy","wig","txt"],
"range":["#3179f5","#00c04f","#ff9800","#26c6da","#c2185b","#fbbd2d","#089981","#a6a6a6"]}}
}
},
{
"data":{"name":"tags"},
"transform":[
{"calculate":"datum.name=='SMI'?13.29:datum.name=='PLNCHF'?-0.53:datum.value","as":"mid"},
{"calculate":"datum.mid+0.83","as":"top"},
{"calculate":"datum.mid-0.83","as":"bot"},
{"calculate":"{'WIG20':306.6,'JP225YJPY':302.5,'DE30EUR':304.3,'PLNJPY':305.7,'SMI':309.7,'PLNEUR':305.3,'PLNCHF':305.3}[datum.name]","as":"left"}
],
"layer":[
{"mark":{"type":"rect","cornerRadius":1},
"encoding":{"x":{"field":"left","type":"quantitative"},"x2":{"datum":314.3},"y":{"field":"top","type":"quantitative"},"y2":{"field":"bot"},"color":{"field":"key","type":"nominal","legend":null}}},
{"mark":{"type":"rect","cornerRadius":1},
"encoding":{"x":{"datum":314.5},"x2":{"datum":324.7},"y":{"field":"top","type":"quantitative"},"y2":{"field":"bot"},"color":{"field":"key","type":"nominal","legend":null}}},
{"mark":{"type":"text","align":"right","baseline":"middle","font":"Roboto","fontSize":11.5,"fontWeight":500},
"encoding":{"x":{"datum":313.8},"y":{"field":"mid","type":"quantitative"},"text":{"field":"name"},
"color":{"condition":{"test":"indexof(['PLNJPY','SMI','PLNCHF'],datum.name)>=0","value":"#1a1a1a"},"value":"#ffffff"}}},
{"mark":{"type":"text","align":"center","baseline":"middle","font":"Roboto","fontSize":11.5,"fontWeight":500},
"encoding":{"x":{"datum":319.6},"y":{"field":"mid","type":"quantitative"},"text":{"field":"text"},
"color":{"condition":{"test":"indexof(['PLNJPY','SMI','PLNCHF'],datum.name)>=0","value":"#1a1a1a"},"value":"#ffffff"}}}
]
},
{
"data":{"name":"header"},
"transform":[
{"calculate":"({'title':18,'O':154,'Ov':162,'H':216,'Hv':224,'L':278,'Lv':284,'C':337,'Cv':346,'chg1':399,'chg2':492,'jp':132,'de':122,'smi':71,'chf':96,'eur':97,'jpy':94}[datum.part]-12)/5.571","as":"at"},
{"calculate":"(525.1-16.9*datum.row)/10.2","as":"line"}
],
"mark":{"type":"text","align":"left","baseline":"middle","font":"Roboto","fontSize":12},
"encoding":{
"x":{"field":"at","type":"quantitative"},
"y":{"field":"line","type":"quantitative"},
"text":{"field":"text"},
"color":{"field":"key","type":"nominal","legend":null}
}
},
{
"data":{"values":[{"text":"2025"}]},
"mark":{"type":"text","align":"center","baseline":"middle","font":"Roboto","fontSize":12,"color":"#9a9a9a","clip":true},
"encoding":{"x":{"datum":0},"y":{"datum":-26.26},"text":{"field":"text"}}
},
{
"data":{"values":[{"text":"TradingView"}]},
"mark":{"type":"text","align":"left","baseline":"middle","font":"Inter","fontSize":20,"fontWeight":600,"color":"#dcdcdc"},
"encoding":{"x":{"datum":6.6},"y":{"datum":-30.58},"text":{"field":"text"}}
},
{
"data":{"values":[{"name":"logo"}]},
"mark":{"type":"point","filled":true,"opacity":1,"color":"#dcdcdc","size":900,
"shape":"M-.99 -.53H-.19V.53H-.63V-.09H-.99Z M.43 -.53H.99L.5 .53H-.01Z M.35 -.36A.18 .18 0 1 1 -.01 -.36A.18 .18 0 1 1 .35 -.36Z"},
"encoding":{"x":{"datum":2.6},"y":{"datum":-30.58}}
}
]
}
